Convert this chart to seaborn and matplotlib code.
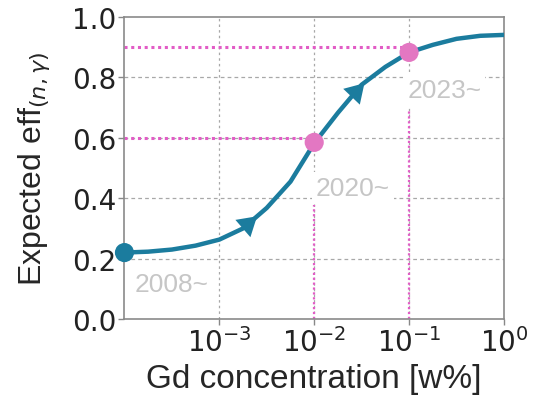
import numpy as np
import pandas as pd
import matplotlib
matplotlib.use("Agg")
import matplotlib.pyplot as plt
import seaborn as sns

# Expected (n,gamma) efficiency versus Gd concentration (quarter-decade steps)
gd_exponent = [-4.0, -3.75, -3.5, -3.25, -3.0, -2.75, -2.5, -2.25, -2.0,
               -1.75, -1.5, -1.25, -1.0, -0.75, -0.5, -0.25, 0.0]
efficiency = [0.220, 0.223, 0.230, 0.243, 0.263, 0.300, 0.368, 0.455, 0.582,
              0.683, 0.776, 0.835, 0.883, 0.908, 0.928, 0.938, 0.941]
gd_conc = [10.0 ** e for e in gd_exponent]

# Milestones
stage_labels = ["2008~", "2020~", "2023~"]
stage_conc = [1e-4, 1e-2, 1e-1]
stage_eff = [0.220, 0.585, 0.883]
target_eff = [None, 0.60, 0.90]
guide_top = [None, 0.377, 0.692]

x_ticks = [1e-3, 1e-2, 1e-1, 1e0]
y_ticks = [0.0, 0.2, 0.4, 0.6, 0.8, 1.0]

teal = "#1b7c9e"
pink = "#e377c2"
guide = "#e25cc6"

sns.set_style("white")
plt.rcParams["font.family"] = ["DejaVu Sans"]

fig = plt.figure(figsize=(5.33, 4.02), dpi=100)
ax = fig.add_axes([0.2335, 0.204, 0.712, 0.751])

df = pd.DataFrame({"conc": gd_conc, "eff": efficiency})
sns.lineplot(data=df, x="conc", y="eff", color=teal, lw=3.2, ax=ax, zorder=4)
ax.set_xscale("log")
ax.set_xlim(1e-4, 1.0)
ax.set_ylim(0, 1.0)

# Grid
for xt in x_ticks[:-1]:
    ax.axvline(xt, color="#a8a8a8", lw=0.9, ls=(0, (2, 2.5)), zorder=0)
for yt in y_ticks[1:-1]:
    ax.axhline(yt, color="#a8a8a8", lw=0.9, ls=(0, (3, 2.5)), zorder=0)

# Guide lines toward the milestone points
for c, t, top in zip(stage_conc, target_eff, guide_top):
    if t is None:
        continue
    ax.hlines(t, 1e-4, c, color=guide, lw=2.2, ls=(0, (1, 1.2)), zorder=2)
    ax.vlines(c, 0, top, color=guide, lw=1.6, ls=(0, (1, 1.2)), zorder=2)

# Direction arrows along the curve
for start, end in [(-2.74, -2.58), (-1.61, -1.45)]:
    y0 = np.interp(start, gd_exponent, efficiency)
    y1 = np.interp(end, gd_exponent, efficiency)
    ax.annotate("", xy=(10 ** end, y1), xytext=(10 ** start, y0),
                arrowprops=dict(arrowstyle="-|>,head_length=0.9,head_width=0.55",
                                color=teal, lw=0, mutation_scale=15),
                zorder=5)

# Milestone markers
sns.scatterplot(x=stage_conc[:1], y=stage_eff[:1], color=teal, s=190,
                edgecolor="none", ax=ax, zorder=6, clip_on=False)
sns.scatterplot(x=stage_conc[1:], y=stage_eff[1:], color=pink, s=190,
                edgecolor="none", ax=ax, zorder=6, clip_on=False)

# Milestone labels
label_pos = [(10 ** -3.89, 0.116), (10 ** -1.98, 0.435), (10 ** -1.02, 0.759)]
for lab, (lx, ly) in zip(stage_labels, label_pos):
    ax.text(lx, ly, lab, fontsize=19, color="#c6c6c6", va="center", ha="left",
            family=["Liberation Sans", "DejaVu Sans"], zorder=3,
            bbox=dict(boxstyle="square,pad=0.15", fc="white", ec="none"))

ax.set_xticks(x_ticks)
ax.set_xticks([], minor=True)
ax.set_yticks(y_ticks)
ax.set_yticklabels([f"{v:.1f}" for v in y_ticks])
ax.tick_params(axis="both", which="major", labelsize=20, length=4, width=1,
               color="#888888", direction="out", pad=2, left=True, bottom=True,
               labelcolor="#222222")

for s in ax.spines.values():
    s.set_color("#8a8a8a")
    s.set_linewidth(1.2)

ax.set_xlabel("Gd concentration [w%]", fontsize=24,
              family=["Liberation Sans", "DejaVu Sans"], labelpad=4)
ax.set_ylabel(r"Expected eff$_{(n,\gamma)}$", fontsize=23,
              family=["Liberation Sans", "DejaVu Sans"], labelpad=14)

fig.savefig("out.png", dpi=100)
